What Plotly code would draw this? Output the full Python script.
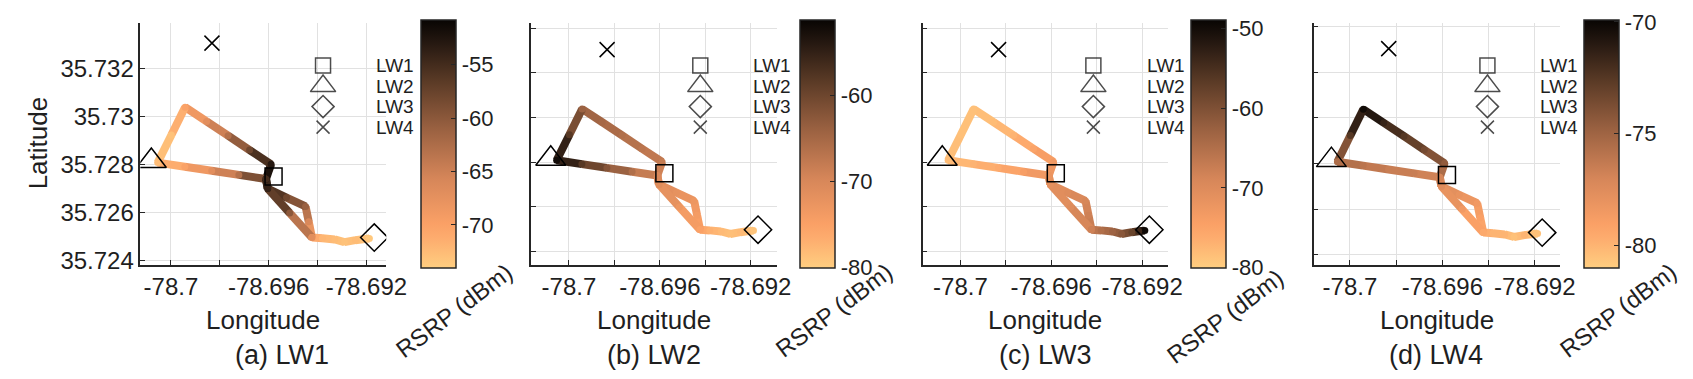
import plotly.graph_objects as go

W, H = 1693, 379
FONT = "Liberation Sans, Arial, sans-serif"
TXT = "#1f1f1f"

# ---------------- data ----------------
route_lon = [-78.69188, -78.69215, -78.69245, -78.69290, -78.69330, -78.69380, -78.69423,
             -78.69436, -78.69449, -78.69527, -78.69604, -78.69611, -78.69590,
             -78.69678, -78.69766, -78.69854, -78.69942, -78.69998, -78.70054,
             -78.69943, -78.69833, -78.69722, -78.69611, -78.69604, -78.69514, -78.69423]
route_lat = [35.72493, 35.72490, 35.72486, 35.72478, 35.72489, 35.72494, 35.72497,
             35.72562, 35.72626, 35.72663, 35.72700, 35.72740, 35.72801,
             35.72860, 35.72920, 35.72979, 35.73038, 35.72923, 35.72808,
             35.72791, 35.72774, 35.72757, 35.72740, 35.72700, 35.72599, 35.72497]

rsrp_lw1 = [-73.5, -73, -72.5, -73, -72.5, -72, -70, -66, -61, -58, -54, -51.5, -53,
            -58, -63, -67, -70, -73, -72.5, -70, -67, -63, -55, -54, -60, -67]
rsrp_lw2 = [-79, -78.5, -78, -78.5, -78, -77, -75, -74, -73, -72, -71, -70, -68,
            -67, -66, -65, -64, -58, -52, -58, -62, -66, -70, -71, -73, -75]
rsrp_lw3 = [-49.5, -54, -58, -61, -63, -65, -67, -68, -69, -70, -71, -72, -73,
            -75, -77, -78, -78.5, -78.5, -78, -77, -76, -74, -72, -71, -70, -68]
rsrp_lw4 = [-80.5, -80.5, -80, -80.5, -80, -80, -79.5, -79, -78.5, -78, -77.5, -76.5, -74.5,
            -73.5, -72.5, -71.5, -70.2, -72.5, -75.5, -76, -76.5, -76.5, -77, -77.5, -78.5, -79.5]

site_names = ["LW1", "LW2", "LW3", "LW4"]
site_lon = [-78.6958, -78.7008, -78.69168, -78.69832]
site_lat = [35.7275, 35.72815, 35.72497, 35.73304]

panel_captions = ["(a) LW1", "(b) LW2", "(c) LW3", "(d) LW4"]
rsrp_all = [rsrp_lw1, rsrp_lw2, rsrp_lw3, rsrp_lw4]
cmin_all = [-74.0, -80.0, -80.0, -81.0]
cmax_all = [-50.8, -51.2, -48.9, -69.9]
cbar_ticks = [[-70, -65, -60, -55], [-80, -70, -60], [-80, -70, -60, -50], [-80, -75, -70]]

xtick_vals = [-78.7, -78.698, -78.696, -78.694, -78.692]
xtick_text = ["-78.7", "", "-78.696", "", "-78.692"]
ytick_vals = [35.724, 35.726, 35.728, 35.730, 35.732, 35.734]
ytick_text = ["35.724", "35.726", "35.728", "35.73", "35.732", ""]

# ---------------- style / layout ----------------
colorscale = [
    [0.00, "rgb(255,206,128)"],
    [0.12, "rgb(253,172,110)"],
    [0.18, "rgb(250,160,102)"],
    [0.36, "rgb(214,134,89)"],
    [0.56, "rgb(154,97,65)"],
    [0.76, "rgb(88,57,37)"],
    [0.90, "rgb(40,26,18)"],
    [1.00, "rgb(8,5,3)"],
]

def cs_color(v, vmin, vmax):
    t = (v - vmin) / (vmax - vmin)
    t = max(0.0, min(1.0, t))
    for (t0, c0), (t1, c1) in zip(colorscale[:-1], colorscale[1:]):
        if t0 <= t <= t1:
            a = [float(s) for s in c0[4:-1].split(",")]
            b = [float(s) for s in c1[4:-1].split(",")]
            f = (t - t0) / (t1 - t0) if t1 > t0 else 0
            r = [round(a[k] + (b[k] - a[k]) * f) for k in range(3)]
            return f"rgb({r[0]},{r[1]},{r[2]})"
    return colorscale[-1][1]

panels = [
    dict(x0=134, x1=383, xr=[-78.70125, -78.69119], yr=[35.72384, 35.73389], cb=418,
         leg_m=319, leg_t=371, cap_x=277, cb_lab_y=310),
    dict(x0=530, x1=779, xr=[-78.70165, -78.69083], yr=[35.7234, 35.73425], cb=802,
         leg_m=701, leg_t=752, cap_x=654, cb_lab_y=310),
    dict(x0=926, x1=1175, xr=[-78.70167, -78.69084], yr=[35.7234, 35.73425], cb=1198,
         leg_m=1099, leg_t=1151, cap_x=1051, cb_lab_y=316),
    dict(x0=1322, x1=1571, xr=[-78.70157, -78.69093], yr=[35.72356, 35.73418], cb=1596,
         leg_m=1498, leg_t=1549, cap_x=1446, cb_lab_y=310),
]
AX_TOP, AX_BOT = 15, 263
LINE_W = 8

site_symbols = ["square-open", "triangle-up-open", "diamond-open", "x-thin-open"]
site_sizes_map = [17, 26, 21, 15]
site_sizes_leg = [15, 22, 17, 13]
leg_rows = [59, 80, 101, 122]

fig = go.Figure()
annotations = []
layout_axes = {}

for p, P in enumerate(panels):
    n = p + 1
    xa = "x" if n == 1 else f"x{n}"
    ya = "y" if n == 1 else f"y{n}"
    vals = rsrp_all[p]
    vmin, vmax = cmin_all[p], cmax_all[p]

    # coloured route segments
    for i in range(len(route_lon) - 1):
        c = cs_color((vals[i] + vals[i + 1]) / 2, vmin, vmax)
        fig.add_trace(go.Scatter(
            x=[route_lon[i], route_lon[i + 1]], y=[route_lat[i], route_lat[i + 1]],
            mode="lines", line=dict(color=c, width=LINE_W), xaxis=xa, yaxis=ya,
            hoverinfo="skip", showlegend=False))
    # measurement points (also carry the colorbar)
    fig.add_trace(go.Scatter(
        x=route_lon, y=route_lat, mode="markers", xaxis=xa, yaxis=ya, showlegend=False,
        marker=dict(size=LINE_W - 1, color=vals, colorscale=colorscale, cmin=vmin, cmax=vmax,
                    symbol="circle", line=dict(width=0), showscale=True,
                    colorbar=dict(
                        x=P["cb"] / W, xanchor="left", xpad=0, ypad=0,
                        y=1 - (AX_TOP + AX_BOT) / 2 / H, yanchor="middle",
                        len=AX_BOT - AX_TOP, lenmode="pixels",
                        thickness=35, thicknessmode="pixels",
                        outlinecolor="#262626", outlinewidth=1.5,
                        tickvals=cbar_ticks[p], ticktext=[str(t) for t in cbar_ticks[p]],
                        ticks="inside", ticklen=5, tickcolor="#262626",
                        tickfont=dict(family=FONT, size=22, color=TXT)))))
    # site markers
    for s in range(4):
        fig.add_trace(go.Scatter(
            x=[site_lon[s]], y=[site_lat[s]], mode="markers", xaxis=xa, yaxis=ya,
            showlegend=False, hoverinfo="skip",
            marker=dict(symbol=site_symbols[s], size=site_sizes_map[s], color="black",
                        line=dict(color="black", width=1.5))))

    dom_x = [P["x0"] / W, P["x1"] / W]
    dom_y = [1 - AX_BOT / H, 1 - AX_TOP / H]
    layout_axes["xaxis" if n == 1 else f"xaxis{n}"] = dict(
        domain=dom_x, range=P["xr"], anchor=ya, showline=True, linecolor="#262626",
        linewidth=1.5, ticks="inside", ticklen=5, tickcolor="#262626", tickwidth=1,
        tickvals=xtick_vals, ticktext=xtick_text, showgrid=True, gridcolor="#e1e1e1",
        gridwidth=1.2, zeroline=False, fixedrange=True,
        tickfont=dict(family=FONT, size=24, color=TXT))
    layout_axes["yaxis" if n == 1 else f"yaxis{n}"] = dict(
        domain=dom_y, range=P["yr"], anchor=xa, showline=True, linecolor="#262626",
        linewidth=1.5, ticks="inside", ticklen=5, tickcolor="#262626", tickwidth=1,
        tickvals=ytick_vals, ticktext=ytick_text if n == 1 else [""] * len(ytick_vals),
        showgrid=True, gridcolor="#e1e1e1", gridwidth=1.2, zeroline=False, fixedrange=True,
        tickfont=dict(family=FONT, size=24, color=TXT))

    # legend (drawn on a pixel overlay axis)
    fig.add_trace(go.Scatter(
        x=[P["leg_m"]] * 4, y=leg_rows, mode="markers", xaxis="x9", yaxis="y9",
        showlegend=False, hoverinfo="skip",
        marker=dict(symbol=site_symbols, size=site_sizes_leg, color="black",
                    line=dict(color="black", width=1.5))))
    for s in range(4):
        annotations.append(dict(
            x=P["leg_t"] / W, y=1 - leg_rows[s] / H, xref="paper", yref="paper",
            xanchor="left", yanchor="middle", showarrow=False, text=site_names[s],
            font=dict(family=FONT, size=19, color=TXT)))

    cx = (P["x0"] + P["x1"]) / 2
    annotations.append(dict(x=cx / W, y=1 - 320 / H, xref="paper", yref="paper",
                            xanchor="center", yanchor="middle", showarrow=False,
                            text="Longitude", font=dict(family=FONT, size=26, color=TXT)))
    annotations.append(dict(x=P["cap_x"] / W, y=1 - 355 / H, xref="paper", yref="paper",
                            xanchor="center", yanchor="middle", showarrow=False,
                            text=panel_captions[p], font=dict(family=FONT, size=27, color=TXT)))
    annotations.append(dict(x=(P["cb"] + 34) / W, y=1 - P["cb_lab_y"] / H, xref="paper",
                            yref="paper", xanchor="center", yanchor="middle", showarrow=False,
                            textangle=-37, text="RSRP (dBm)",
                            font=dict(family=FONT, size=24, color=TXT)))

annotations.append(dict(x=30 / W, y=1 - 138 / H, xref="paper", yref="paper",
                        xanchor="center", yanchor="middle", showarrow=False, textangle=-90,
                        text="Latitude", font=dict(family=FONT, size=26, color=TXT)))

layout_axes["xaxis9"] = dict(domain=[0, 1], range=[0, W], anchor="y9", visible=False,
                             fixedrange=True)
layout_axes["yaxis9"] = dict(domain=[0, 1], range=[H, 0], anchor="x9", visible=False,
                             fixedrange=True)

fig.update_layout(
    width=W, height=H, margin=dict(l=0, r=0, t=0, b=0),
    paper_bgcolor="white", plot_bgcolor="rgba(0,0,0,0)",
    font=dict(family=FONT, color=TXT), showlegend=False,
    annotations=annotations, **layout_axes)

fig.write_html("out.html")
